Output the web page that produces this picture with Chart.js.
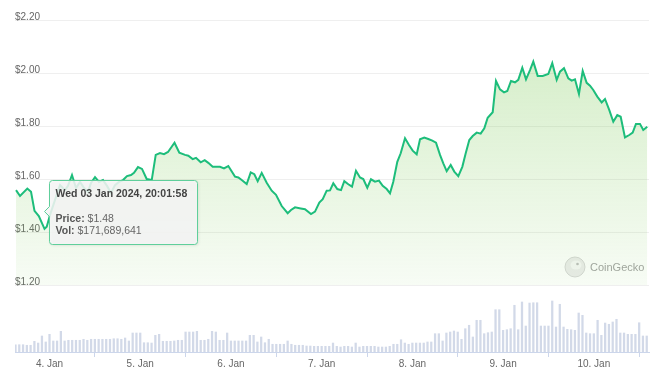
<!DOCTYPE html>
<html><head><meta charset="utf-8">
<script src="https://cdn.jsdelivr.net/npm/chart.js@4/dist/chart.umd.min.js"></script>
<style>html,body{margin:0;padding:0;background:#fff}canvas{display:block}</style>
</head><body>
<canvas id="c" width="661" height="384"></canvas>
<script>
// time axis: hours since 3 Jan 2024 00:00
const priceHours = [15.14,16.20,18.13,19.11,20.03,21.17,22.68,23.26,24.13,25.46,
26.78,28.10,28.89,29.95,31.01,32.07,33.13,34.19,34.98,36.04,
37.10,38.15,39.21,40.27,41.33,42.39,43.44,44.50,45.56,46.35,
47.41,48.47,49.71,51.04,52.10,53.23,54.29,55.35,57.07,58.34,
59.85,60.72,61.88,62.76,64.00,65.06,66.01,67.17,69.10,70.16,
71.30,73.07,73.95,74.85,76.17,77.23,78.18,79.08,80.14,81.46,
82.78,83.92,85.43,87.01,87.89,88.95,90.46,91.59,93.18,94.24,
95.38,96.28,97.33,98.21,99.08,100.14,101.12,101.99,103.05,104.03,
105.08,106.14,107.01,108.07,109.05,110.11,111.16,112.15,113.21,114.08,
114.95,116.01,116.91,118.05,119.10,120.08,121.14,122.02,123.15,124.21,
125.27,126.25,127.31,128.18,129.08,130.14,131.09,132.15,133.21,134.11,
135.06,135.96,137.02,138.07,139.03,139.92,141.25,142.12,143.18,144.24,
145.11,146.09,147.15,148.02,149.08,150.06,151.12,151.99,153.15,154.47,
155.96,157.01,158.18,159.05,160.11,161.25,162.14,163.02,164.07,165.06,
166.11,166.99,167.86,168.92,170.08,170.96,172.10,173.15,174.21,175.11,
176.24,177.38,178.28,179.15,180.21,181.08,182.14];

const prices = [1.558,1.536,1.564,1.552,1.48,1.460,1.412,1.420,1.464,1.521,
1.577,1.558,1.574,1.615,1.566,1.589,1.566,1.551,1.585,1.607,
1.589,1.596,1.574,1.547,1.577,1.589,1.596,1.611,1.615,1.623,
1.645,1.638,1.600,1.596,1.691,1.698,1.694,1.702,1.737,1.699,
1.691,1.688,1.675,1.680,1.663,1.671,1.661,1.646,1.646,1.640,
1.649,1.609,1.606,1.596,1.581,1.625,1.618,1.592,1.623,1.586,
1.556,1.540,1.498,1.471,1.483,1.493,1.489,1.486,1.468,1.477,
1.511,1.524,1.556,1.557,1.584,1.562,1.558,1.592,1.580,1.571,
1.631,1.606,1.600,1.567,1.599,1.590,1.594,1.574,1.562,1.546,
1.590,1.665,1.697,1.754,1.728,1.707,1.693,1.750,1.756,1.751,
1.745,1.737,1.691,1.659,1.630,1.653,1.628,1.611,1.646,1.697,
1.747,1.762,1.775,1.771,1.791,1.831,1.852,1.970,1.938,1.927,
1.932,1.970,1.965,1.974,2.020,1.976,2.011,2.043,1.989,1.989,
1.996,2.037,1.974,2.005,2.018,1.980,1.971,1.976,1.921,2.008,
1.963,1.952,1.936,1.911,1.889,1.902,1.860,1.816,1.841,1.835,
1.757,1.766,1.775,1.808,1.808,1.785,1.797];

// hourly volume (millions USD), first bar at 3 Jan 15:00
const volumeStartHour = 15;
const volumes = [117,117,117,108,108,171.69,144,257,161,284,177,177,332,177,188,188,188,188,204,188,
204,204,204,204,204,204,213,213,204,225,177,305,305,305,149,149,144,268,284,172,
172,172,177,188,188,321,321,321,332,188,188,204,332,321,
188,188,305,177,177,177,177,177,268,268,161,241,149,204,124,124,124,124,177,124,
108,108,108,96,96,91,91,91,91,91,144,91,80,91,91,80,144,80,91,91,
91,91,80,80,80,91,124,124,197,144,124,144,144,144,144,161,161,294,294,
177,305,321,337,321,204,374,429,241,509,509,294,310,321,679,679,348,358,374,750,
358,803,417,786,791,791,417,417,417,819,401,766,401,364,358,348,626,589,305,294,
294,509,268,465,445,482,525,305,305,284,284,284,470,257,257];
const volumeHours = volumes.map((v, i) => volumeStartHour + i);

const dayTicks = [24,48,72,96,120,144,168];
const dayLabels = ['4. Jan','5. Jan','6. Jan','7. Jan','8. Jan','9. Jan','10. Jan'];
const priceTicks = [1.2,1.4,1.6,1.8,2.0,2.2];
const priceFloor = 1.2;

const tip = {hour: 20.03, title: 'Wed 03 Jan 2024, 20:01:58', price: '$1.48', vol: '$171,689,641'};

const FONT = '"Liberation Sans", Arial, sans-serif';

const watermark = {
  id: 'watermark',
  beforeDatasetsDraw(chart) {
    const ctx = chart.ctx;
    ctx.save();
    const cx = 575, cy = 267;
    ctx.beginPath(); ctx.arc(cx, cy, 10, 0, Math.PI*2);
    ctx.fillStyle = '#ececec'; ctx.fill();
    ctx.strokeStyle = '#d6d6d6'; ctx.lineWidth = 1; ctx.stroke();
    ctx.beginPath(); ctx.ellipse(cx+1, cy-2, 5.5, 4.5, 0, 0, Math.PI*2);
    ctx.fillStyle = '#f7f7f7'; ctx.fill();
    ctx.beginPath(); ctx.arc(cx+2.5, cy-3, 1.3, 0, Math.PI*2);
    ctx.fillStyle = '#bdbdbd'; ctx.fill();
    ctx.font = '11px ' + FONT;
    ctx.fillStyle = '#a3a3a3';
    ctx.textBaseline = 'middle'; ctx.textAlign = 'left';
    ctx.fillText('CoinGecko', 590, cy + 0.5);
    ctx.restore();
  }
};

const staticTooltip = {
  id: 'staticTooltip',
  afterDraw(chart) {
    const meta = chart.getDatasetMeta(0);
    const idx = priceHours.indexOf(tip.hour);
    const pt = meta.data[idx];
    if (!pt) return;
    const ctx = chart.ctx;
    const bx = Math.round(pt.x + 14) + 0.5, by = Math.round(pt.y - 31) + 0.5, bw = 148, bh = 64, r = 3;
    const cy = Math.round(pt.y) + 0.5;
    ctx.save();
    ctx.beginPath();
    ctx.moveTo(bx + r, by);
    ctx.lineTo(bx + bw - r, by);
    ctx.quadraticCurveTo(bx + bw, by, bx + bw, by + r);
    ctx.lineTo(bx + bw, by + bh - r);
    ctx.quadraticCurveTo(bx + bw, by + bh, bx + bw - r, by + bh);
    ctx.lineTo(bx + r, by + bh);
    ctx.quadraticCurveTo(bx, by + bh, bx, by + bh - r);
    ctx.lineTo(bx, cy + 5);
    ctx.lineTo(bx - 5, cy);
    ctx.lineTo(bx, cy - 5);
    ctx.lineTo(bx, by + r);
    ctx.quadraticCurveTo(bx, by, bx + r, by);
    ctx.closePath();
    ctx.shadowColor = 'rgba(0,0,0,0.12)';
    ctx.shadowBlur = 3; ctx.shadowOffsetX = 1; ctx.shadowOffsetY = 1;
    ctx.fillStyle = 'rgba(247,247,247,0.86)';
    ctx.fill();
    ctx.shadowColor = 'transparent';
    ctx.strokeStyle = '#5fcf9b'; ctx.lineWidth = 1;
    ctx.stroke();
    const tx = bx + 6;
    ctx.textBaseline = 'middle'; ctx.textAlign = 'left';
    ctx.font = 'bold 10.5px ' + FONT; ctx.fillStyle = '#444';
    ctx.fillText(tip.title, tx, by + 13.5);
    const line = (label, val, y) => {
      ctx.font = 'bold 10.5px ' + FONT; ctx.fillStyle = '#555';
      ctx.fillText(label, tx, y);
      const w = ctx.measureText(label + ' ').width;
      ctx.font = '10.5px ' + FONT; ctx.fillStyle = '#666';
      ctx.fillText(val, tx + w, y);
    };
    line('Price:', tip.price, by + 38.5);
    line('Vol:', tip.vol, by + 51);
    ctx.restore();
  }
};

new Chart(document.getElementById('c'), {
  type: 'bar',
  data: {
    datasets: [
      {
        type: 'line',
        data: priceHours.map((h, i) => ({x: h, y: prices[i]})),
        yAxisID: 'y',
        borderColor: '#1dbd7b',
        borderWidth: 2,
        pointRadius: 0,
        tension: 0,
        fill: {value: priceFloor},
        backgroundColor: (c) => {
          const {ctx, chartArea, scales} = c.chart;
          if (!chartArea) return 'rgba(120,200,80,0.2)';
          const g = ctx.createLinearGradient(0, chartArea.top, 0, scales.y.getPixelForValue(priceFloor));
          g.addColorStop(0, 'rgba(120,200,80,0.34)');
          g.addColorStop(1, 'rgba(120,200,80,0.06)');
          return g;
        },
        order: 0
      },
      {
        type: 'bar',
        data: volumeHours.map((h, i) => ({x: h, y: volumes[i]})),
        yAxisID: 'yv',
        backgroundColor: '#d2d9e8',
        barThickness: 1.6,
        grouped: false,
        order: 1
      }
    ]
  },
  options: {
    responsive: false,
    animation: false,
    events: [],
    layout: {padding: {top: 20, left: 15, right: 12, bottom: 13}},
    plugins: {legend: {display: false}, tooltip: {enabled: false}},
    scales: {
      x: {
        type: 'linear',
        min: 14.87, max: 182.6,
        offset: false,
        afterBuildTicks: (s) => { s.ticks = dayTicks.map(v => ({value: v})); },
        ticks: {
          callback: (v) => dayLabels[dayTicks.indexOf(v)] || '',
          color: '#666', font: {family: FONT, size: 10}, padding: 1,
          maxRotation: 0, autoSkip: false
        },
        grid: {drawOnChartArea: false, drawTicks: true, tickLength: 5, tickColor: '#ccd6eb'},
        border: {display: true, color: '#ccd6eb'}
      },
      y: {
        position: 'left',
        min: 0.9472, max: 2.2,
        afterBuildTicks: (s) => { s.ticks = priceTicks.map(v => ({value: v})); },
        ticks: {
          mirror: true, padding: 0, labelOffset: -3,
          callback: (v) => '$' + Number(v).toFixed(2),
          color: '#666', font: {family: FONT, size: 10}
        },
        grid: {color: '#efefef', drawTicks: false},
        border: {display: false}
      },
      yv: {
        display: false,
        min: 0, max: 5330
      }
    }
  },
  plugins: [watermark, staticTooltip]
});
</script>
</body></html>
